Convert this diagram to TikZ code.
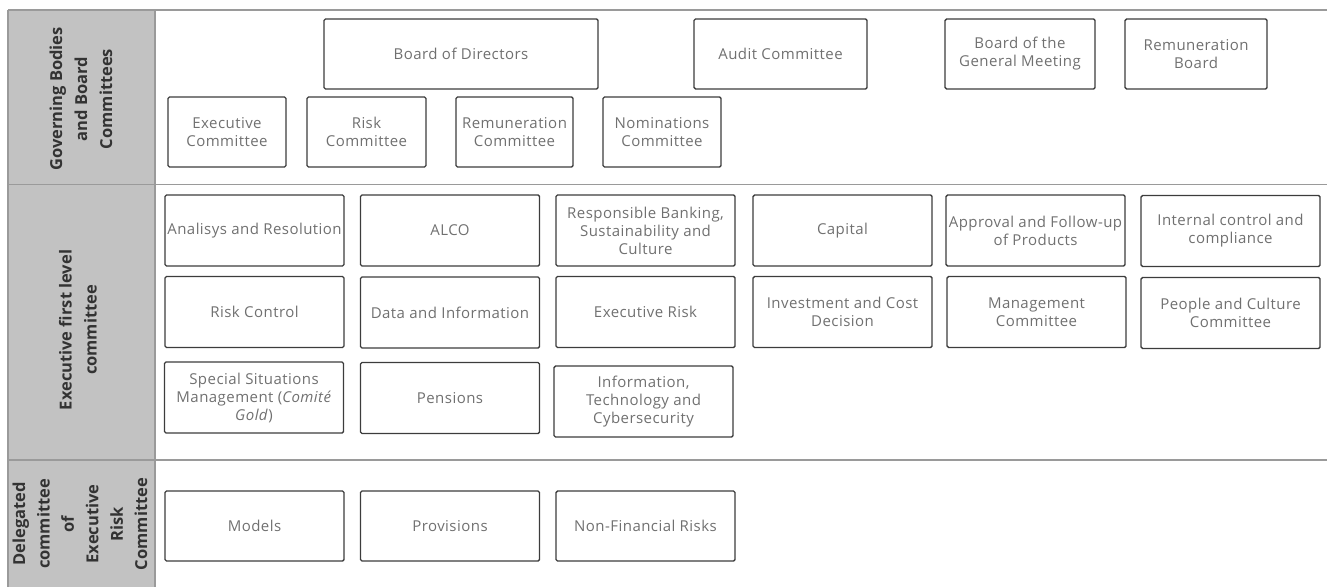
\documentclass[tikz,border=0pt]{standalone}
\usepackage{fontspec}
\setmainfont{Open Sans}
\newfontfamily\boxfont[LetterSpace=3]{Open Sans}
\definecolor{txtc}{HTML}{707070}
\definecolor{lblc}{HTML}{333333}
\definecolor{colc}{HTML}{C2C2C2}
\definecolor{rulec}{HTML}{9A9A9A}
\definecolor{boxc}{HTML}{3C3C3C}
\begin{document}
\begin{tikzpicture}[x=1bp,y=-1bp,
  cbox/.style={draw=boxc, line width=1.4bp, rounded corners=1.5bp, inner sep=0pt,
    align=center, text=txtc, font=\boxfont\fontsize{15bp}{18bp}\selectfont},
  wbox/.style={cbox, minimum width=179bp, minimum height=71bp},
  sbox/.style={cbox, minimum height=70bp},
  lbl/.style={rotate=90, align=center, text=lblc, inner sep=0pt,
    font=\fontsize{16.5bp}{25bp}\selectfont\bfseries},
  rulel/.style={draw=rulec, line width=1.4bp}]
\useasboundingbox (0,0) rectangle (1327,587);
% left column
\path[fill=colc] (8,10) rectangle (155,587);
\draw[draw=rulec, line width=1.2bp] (8,10) -- (8,587);
\draw[draw=rulec, line width=1.2bp] (155,10) -- (155,587);
% rules
\coordinate (t0) at (8,10);   \coordinate (t1) at (1327,10);
\coordinate (s0) at (8,184.5);  \coordinate (s1) at (1327,184.5);
\coordinate (u0) at (8,460);  \coordinate (u1) at (1327,460);
\draw[rulel] (t0) -- (t1);
\draw[rulel] (s0) -- (s1);
\draw[rulel] (u0) -- (u1);
% labels
\node[lbl] (l1) at (81,99) {Governing Bodies\\and Board\\Committees};
\node[lbl] (l2) at (78,330) {Executive first level\\committee};
\node[lbl, font=\fontsize{16.5bp}{24.4bp}\selectfont\bfseries] (l3) at (80,524) {Delegated\\committee\\of\\Executive\\Risk\\Committee};
% section 1
\node[sbox, minimum width=274bp] (bod) at (461,54) {Board of Directors};
\node[sbox, minimum width=173bp] (aud) at (780.5,54) {Audit Committee};
\node[sbox, minimum width=150bp] (bgm) at (1020,54) {Board of the\\General Meeting};
\node[sbox, minimum width=142bp] (remb) at (1196,54) {Remuneration\\Board};
\node[sbox, minimum width=118bp] (exc) at (227,132) {Executive\\Committee};
\node[sbox, minimum width=119bp] (rkc) at (366.5,132) {Risk\\Committee};
\node[sbox, minimum width=117bp] (rmc) at (514.5,132) {Remuneration\\Committee};
\node[sbox, minimum width=118bp] (nmc) at (662,132) {Nominations\\Committee};
% section 2 row 1
\node[wbox] (ana) at (254.5,230.5) {Analisys and Resolution};
\node[wbox] (alco) at (450,230.5) {ALCO};
\node[wbox] (rbs) at (645.5,230.5) {Responsible Banking,\\Sustainability and\\Culture};
\node[wbox] (cap) at (842.5,230.5) {Capital};
\node[wbox] (apf) at (1035.5,230.5) {Approval and Follow-up\\of Products};
\node[wbox] (icc) at (1230.5,231) {Internal control and\\compliance};
% row 2
\node[wbox] (rcl) at (254.5,312) {Risk Control};
\node[wbox] (dai) at (450,312.5) {Data and Information};
\node[wbox] (exr) at (645.5,312) {Executive Risk};
\node[wbox] (icd) at (842.5,312) {Investment and Cost\\Decision};
\node[wbox] (mgc) at (1036.5,312) {Management\\Committee};
\node[wbox] (pcc) at (1230.5,313) {People and Culture\\Committee};
% row 3
\node[wbox] (ssm) at (254,397.5) {Special Situations\\Management (\emph{Comité}\\\emph{Gold})};
\node[wbox] (pen) at (450,398) {Pensions};
\node[wbox] (itc) at (643.5,401.5) {Information,\\Technology and\\Cybersecurity};
% section 3
\node[sbox, minimum width=179bp] (mod) at (254.5,526) {Models};
\node[sbox, minimum width=179bp] (pro) at (450,526) {Provisions};
\node[sbox, minimum width=179bp] (nfr) at (645.5,526) {Non-Financial Risks};
\end{tikzpicture}
\end{document}
